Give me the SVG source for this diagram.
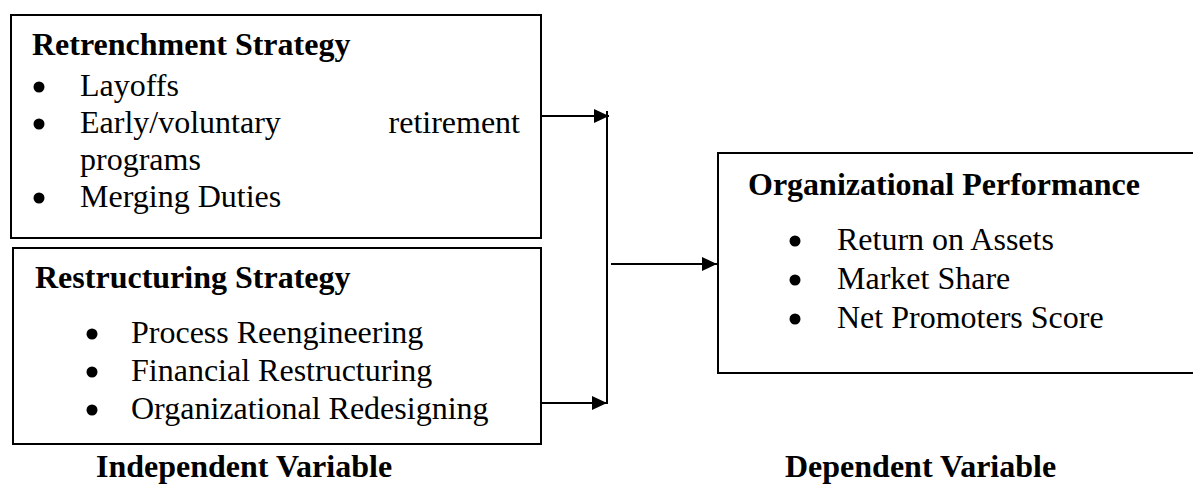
<svg xmlns="http://www.w3.org/2000/svg" width="1193" height="484" viewBox="0 0 1193 484">
<style>
.box{fill:#fff;stroke:#000;stroke-width:2}
.t{font-family:"Liberation Serif","Times New Roman",serif;font-size:32px;fill:#000}
.b{font-weight:bold}
.conn{stroke:#000;stroke-width:2;fill:none}
.dot{fill:#000}
</style>
<defs>
<marker id="ah" markerUnits="userSpaceOnUse" markerWidth="16" markerHeight="16" viewBox="0 0 16 16" refX="15" refY="8" orient="auto">
<path d="M0,1 L15,8 L0,15 Z" fill="#000"/>
</marker>
</defs>
<g id="retrenchment">
<rect class="box" x="11" y="15" width="530" height="223"/>
<text class="t b" x="32" y="55">Retrenchment Strategy</text>
<circle class="dot" cx="39" cy="87" r="5.5"/>
<text class="t" x="80" y="96">Layoffs</text>
<circle class="dot" cx="39" cy="124" r="5.5"/>
<text class="t" x="80" y="133">Early/voluntary</text>
<text class="t" x="520" y="133" text-anchor="end">retirement</text>
<text class="t" x="80" y="170">programs</text>
<circle class="dot" cx="39" cy="198" r="5.5"/>
<text class="t" x="80" y="207">Merging Duties</text>
</g>
<g id="restructuring">
<rect class="box" x="13" y="248" width="528" height="196"/>
<text class="t b" x="35" y="288">Restructuring Strategy</text>
<circle class="dot" cx="92" cy="334" r="5.5"/>
<text class="t" x="131" y="343">Process Reengineering</text>
<circle class="dot" cx="92" cy="372" r="5.5"/>
<text class="t" x="131" y="381">Financial Restructuring</text>
<circle class="dot" cx="92" cy="410" r="5.5"/>
<text class="t" x="131" y="419">Organizational Redesigning</text>
</g>
<g id="performance">
<rect class="box" x="718" y="153" width="490" height="220"/>
<text class="t b" x="748" y="195">Organizational Performance</text>
<circle class="dot" cx="795" cy="241" r="5.5"/>
<text class="t" x="837" y="250">Return on Assets</text>
<circle class="dot" cx="795" cy="280" r="5.5"/>
<text class="t" x="837" y="289">Market Share</text>
<circle class="dot" cx="795" cy="319" r="5.5"/>
<text class="t" x="837" y="328">Net Promoters Score</text>
</g>
<g id="labels">
<text class="t b" x="96" y="477">Independent Variable</text>
<text class="t b" x="785" y="477">Dependent Variable</text>
</g>
<g id="connectors">
<line class="conn" x1="541" y1="116" x2="609" y2="116" marker-end="url(#ah)"/>
<line class="conn" x1="607" y1="111" x2="607" y2="404"/>
<line class="conn" x1="541" y1="403" x2="607" y2="403" marker-end="url(#ah)"/>
<line class="conn" x1="611" y1="264" x2="717" y2="264" marker-end="url(#ah)"/>
</g>
</svg>
